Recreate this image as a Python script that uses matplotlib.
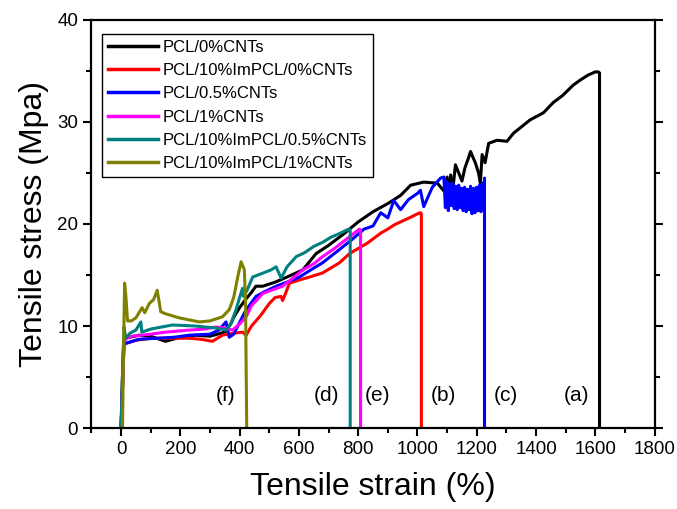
import numpy as np
import matplotlib
matplotlib.use('Agg')
import matplotlib.pyplot as plt
from matplotlib.ticker import MultipleLocator

plt.rcParams['font.family'] = ['Liberation Sans', 'DejaVu Sans']

# PCL/0%CNTs (a)
strain_a = [0, 4, 9, 14, 30, 60, 100, 150, 200, 250, 300, 350, 370, 381, 400, 420, 440, 455, 478,
            520, 560, 613, 658, 700, 750, 800, 850, 900, 943, 977, 1021, 1067, 1090, 1100, 1105,
            1112, 1118, 1128, 1139, 1150, 1160, 1170, 1179, 1186, 1195, 1206, 1212, 1218, 1228,
            1240, 1268, 1302, 1324, 1350, 1380, 1425, 1458, 1490, 1525, 1549, 1576, 1600, 1610,
            1614, 1614]
stress_a = [0, 4.5, 8.8, 9.0, 8.9, 9.1, 9.0, 8.5, 8.9, 9.1, 9.0, 9.4, 10.2, 10.9, 11.8, 12.6, 13.3,
            13.9, 13.9, 14.3, 14.8, 15.5, 17.1, 17.9, 19.0, 20.2, 21.2, 22.0, 22.8, 23.8, 24.1,
            24.0, 23.2, 24.6, 22.5, 24.8, 23.0, 25.8, 25.0, 24.2, 25.5, 26.3, 27.1, 26.6, 26.0,
            25.0, 24.0, 26.8, 26.0, 27.9, 28.2, 28.1, 28.9, 29.5, 30.2, 30.9, 31.9, 32.6, 33.6,
            34.1, 34.6, 34.9, 34.9, 34.8, 0]

# PCL/10%ImPCL/0%CNTs (b)
strain_b = [0, 5, 10, 16, 50, 100, 150, 230, 270, 308, 342, 380, 410, 422, 440, 470, 500, 520,
            540, 545, 555, 568, 600, 636, 680, 737, 771, 800, 830, 876, 900, 921, 950, 980, 1000,
            1010, 1013, 1013]
stress_b = [0, 4, 8.3, 8.3, 8.6, 8.8, 8.8, 8.8, 8.7, 8.5, 9.1, 9.3, 9.4, 9.1, 10.0, 11.0, 12.2,
            12.8, 12.9, 12.5, 13.2, 14.2, 14.5, 14.8, 15.2, 16.2, 17.1, 17.6, 18.1, 19.1, 19.5,
            19.9, 20.3, 20.7, 21.0, 21.1, 21.0, 0]

# PCL/0.5%CNTs (c)
strain_c = [0, 5, 10, 16, 60, 120, 180, 230, 300, 330, 354, 365, 380, 399, 420, 455, 480, 523,
            560, 602, 640, 680, 737, 780, 820, 850, 876, 900, 920, 943, 970, 1000, 1010, 1021,
            1050, 1078, 1089, 1094, 1099, 1104, 1109, 1114, 1119, 1124, 1129, 1134, 1139, 1144,
            1149, 1154, 1159, 1164, 1169, 1174, 1179, 1184, 1189, 1194, 1199, 1204, 1209, 1214,
            1219, 1223, 1226, 1226]
stress_c = [0, 4, 8.3, 8.3, 8.7, 8.8, 8.9, 9.1, 9.2, 9.6, 10.4, 8.9, 9.2, 10.3, 11.5, 12.9, 13.3,
            13.9, 14.3, 14.8, 15.5, 16.2, 17.5, 18.5, 19.5, 19.8, 21.1, 20.6, 22.3, 21.4, 22.4,
            23.0, 23.3, 21.7, 23.6, 24.5, 24.6, 21.6, 24.2, 21.3, 23.9, 21.8, 24.0, 21.5, 23.7,
            21.4, 23.8, 21.6, 23.5, 21.3, 23.6, 21.2, 23.4, 21.4, 23.7, 21.0, 23.5, 21.1, 23.6,
            21.3, 23.8, 21.2, 24.0, 21.5, 24.5, 0]

# PCL/1%CNTs (e)
strain_e = [0, 5, 10, 20, 37, 100, 150, 230, 280, 320, 350, 376, 400, 422, 440, 460, 478, 545,
            580, 613, 650, 680, 720, 760, 791, 805, 808, 808]
stress_e = [0, 4, 8.5, 8.8, 9.0, 9.2, 9.4, 9.6, 9.7, 9.9, 9.8, 9.6, 10.2, 10.9, 12.0, 12.6, 13.2,
            13.9, 14.7, 15.5, 16.1, 16.8, 17.6, 18.5, 19.2, 19.5, 19.3, 0]

# PCL/10%ImPCL/0.5%CNTs (d)
strain_d = [0, 5, 10, 16, 30, 50, 67, 70, 100, 173, 250, 320, 354, 370, 388, 400, 410, 413, 425,
            444, 480, 506, 523, 540, 560, 591, 620, 650, 680, 708, 740, 760, 770, 773, 773]
stress_d = [0, 5, 9.9, 8.8, 9.3, 9.6, 10.4, 9.4, 9.7, 10.1, 10.0, 9.8, 9.6, 10.2, 11.6, 12.8,
            13.7, 12.9, 13.5, 14.8, 15.2, 15.5, 15.8, 14.7, 15.8, 16.8, 17.2, 17.8, 18.2, 18.7,
            19.1, 19.4, 19.5, 19.3, 0]

# PCL/10%ImPCL/1%CNTs (f)
strain_f = [5, 8, 12, 16, 22, 35, 50, 71, 80, 95, 110, 122, 134, 150, 196, 230, 264, 300, 342,
            365, 380, 395, 405, 416, 420, 424]
stress_f = [0, 7, 14.2, 13.0, 10.5, 10.5, 10.8, 11.8, 11.3, 12.2, 12.6, 13.5, 11.4, 11.2, 10.8,
            10.6, 10.4, 10.5, 10.9, 11.6, 12.8, 15.0, 16.3, 15.5, 12.0, 0]

series = [
    (strain_a, stress_a, 'black', 'PCL/0%CNTs'),
    (strain_b, stress_b, 'red', 'PCL/10%ImPCL/0%CNTs'),
    (strain_c, stress_c, 'blue', 'PCL/0.5%CNTs'),
    (strain_e, stress_e, 'magenta', 'PCL/1%CNTs'),
    (strain_d, stress_d, '#008080', 'PCL/10%ImPCL/0.5%CNTs'),
    (strain_f, stress_f, '#808000', 'PCL/10%ImPCL/1%CNTs'),
]

letters = ['(f)', '(d)', '(e)', '(b)', '(c)', '(a)']
letter_x = [352, 694, 865, 1086, 1297, 1537]
letter_y = 3.2

fig = plt.figure(figsize=(6.77, 5.09), dpi=100)
ax = fig.add_axes([0.135, 0.159, 0.832, 0.802])

for x, y, c, lab in series:
    ax.plot(x, y, color=c, lw=2.2, label=lab)

for t, xx in zip(letters, letter_x):
    ax.text(xx, letter_y, t, fontsize=15, ha='center', va='center')

ax.set_xlim(-100, 1800)
ax.set_ylim(0, 40)
ax.xaxis.set_major_locator(MultipleLocator(200))
ax.xaxis.set_minor_locator(MultipleLocator(100))
ax.yaxis.set_major_locator(MultipleLocator(10))
ax.yaxis.set_minor_locator(MultipleLocator(5))
ax.set_xticks(np.arange(0, 1801, 200))
ax.tick_params(which='major', direction='out', length=6, width=1.5, labelsize=13.5)
ax.tick_params(which='minor', direction='out', length=3.5, width=1.5)
ax.tick_params(which='both', top=False, right=True, labelright=False)
for s in ax.spines.values():
    s.set_linewidth(1.6)

ax.set_xlabel('Tensile strain (%)', fontsize=23, labelpad=10)
ax.set_ylabel('Tensile stress (Mpa)', fontsize=23, labelpad=6)

leg = ax.legend(loc='upper left', bbox_to_anchor=(0.019, 0.966), borderaxespad=0,
                fontsize=12, handlelength=3.0, handletextpad=0.3, labelspacing=0.5,
                borderpad=0.35, fancybox=False, framealpha=1)
leg.get_frame().set_edgecolor('black')
leg.get_frame().set_linewidth(1.0)
for h in leg.get_lines():
    h.set_linewidth(2.5)

fig.savefig('out.png', dpi=100)
